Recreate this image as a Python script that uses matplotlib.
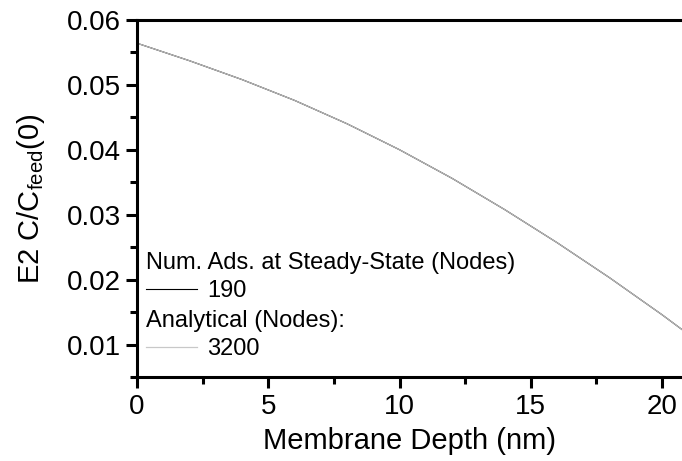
import matplotlib.pyplot as plt
from matplotlib.lines import Line2D

plt.rcParams['font.family'] = ['Liberation Sans', 'DejaVu Sans']
plt.rcParams['mathtext.fontset'] = 'custom'
plt.rcParams['mathtext.rm'] = 'Liberation Sans'
plt.rcParams['mathtext.it'] = 'Liberation Sans:italic'

# concentration profile
depth = [0, 2, 4, 6, 8, 10, 12, 14, 16, 18, 20, 20.8]
conc_num = [0.0564, 0.0537, 0.0508, 0.0476, 0.0440, 0.0400,
            0.0356, 0.0308, 0.0257, 0.0203, 0.0146, 0.0122]
conc_ana = [0.0564, 0.0537, 0.0508, 0.0476, 0.0440, 0.0400,
            0.0356, 0.0308, 0.0257, 0.0203, 0.0146, 0.0122]
x_ticks = [0, 5, 10, 15, 20]
y_ticks = [0.01, 0.02, 0.03, 0.04, 0.05, 0.06]

fig = plt.figure(figsize=(6.82, 4.61), dpi=100)
ax = fig.add_axes([0.2009, 0.182, 0.7991, 0.775])

ax.plot(depth, conc_num, color='black', lw=0.8)
ax.plot(depth, conc_ana, color='#b8b8b8', lw=0.9)

ax.set_xlim(0, 20.76)
ax.set_ylim(0.0051, 0.06)
ax.set_xticks(x_ticks)
ax.set_xticks([2.5, 7.5, 12.5, 17.5], minor=True)
ax.set_yticks(y_ticks)
ax.set_yticks([0.005, 0.015, 0.025, 0.035, 0.045, 0.055], minor=True)
ax.set_xticklabels(['0', '5', '10', '15', '20'])

for s in ['left', 'top', 'bottom']:
    ax.spines[s].set_linewidth(2.2)
ax.spines['right'].set_visible(False)
ax.tick_params(which='major', direction='out', length=8, width=2.2, labelsize=20)
ax.tick_params(which='minor', direction='out', length=5, width=2.2)
ax.tick_params(axis='x', which='major', pad=4)
ax.tick_params(axis='y', which='major', pad=3.6)
ax.tick_params(top=False, right=False, which='both')

ax.set_xlabel('Membrane Depth (nm)', fontsize=21, labelpad=5)
ax.set_ylabel(r'E2 C/C$_{\mathrm{feed}}$(0)', fontsize=21, labelpad=14)

h1 = [Line2D([], [], color='black', lw=0.8)]
h2 = [Line2D([], [], color='#c8c8c8', lw=0.9)]
common = dict(loc='upper left', frameon=False, fontsize=17, title_fontsize=17,
              alignment='left', handlelength=2.16, handletextpad=0.42,
              borderaxespad=0, borderpad=0, labelspacing=0.25)
leg1 = ax.legend(h1, ['190'], title='Num. Ads. at Steady-State (Nodes)',
                 bbox_to_anchor=(0.0165, 0.350), **common)
ax.add_artist(leg1)
ax.legend(h2, ['3200'], title='Analytical (Nodes):',
          bbox_to_anchor=(0.0165, 0.188), **common)

fig.savefig('out.png', dpi=100)
